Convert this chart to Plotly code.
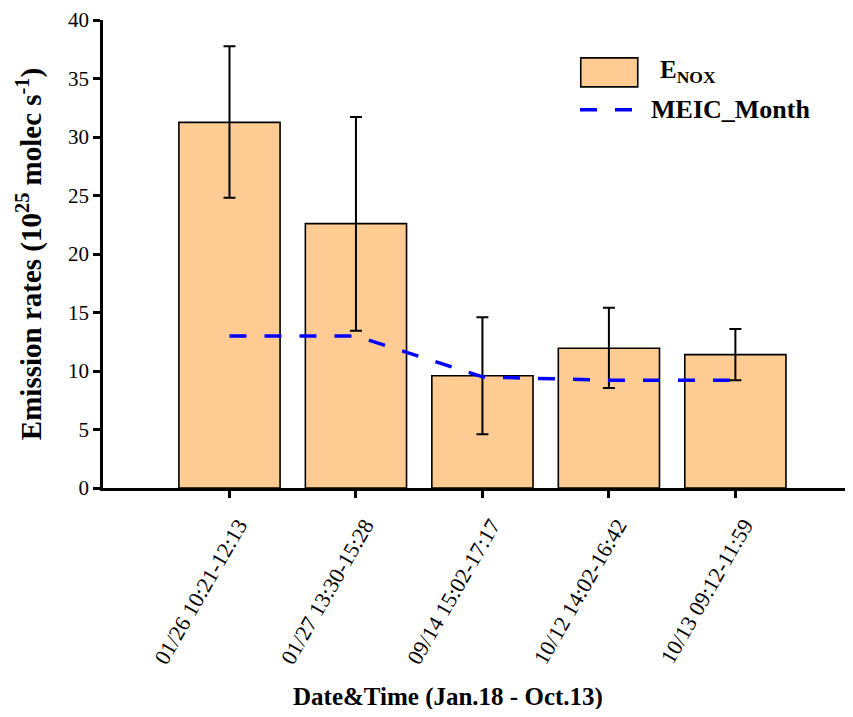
import plotly.graph_objects as go

categories = ["01/26 10:21-12:13", "01/27 13:30-15:28", "09/14 15:02-17:17",
              "10/12 14:02-16:42", "10/13 09:12-11:59"]
enox = [31.25, 22.6, 9.6, 11.95, 11.4]
err_upper = [37.75, 31.7, 14.6, 15.4, 13.6]
err_lower = [24.8, 13.45, 4.6, 8.55, 9.2]
meic_month = [13.0, 13.0, 9.5, 9.2, 9.2]
y_ticks = [0, 5, 10, 15, 20, 25, 30, 35, 40]

xpos = list(range(len(categories)))
err_plus = [u - v for u, v in zip(err_upper, enox)]
err_minus = [v - l for v, l in zip(enox, err_lower)]

FONT = "Times New Roman, Liberation Serif, DejaVu Serif, serif"
BAR_COLOR = "#FECC92"

fig = go.Figure()
fig.add_trace(go.Bar(
    x=xpos, y=enox, width=0.8, name="E_NOX",
    marker=dict(color=BAR_COLOR, line=dict(color="black", width=1.6)),
    error_y=dict(type="data", array=err_plus, arrayminus=err_minus,
                 color="black", thickness=2, width=6),
    showlegend=False,
))
fig.add_trace(go.Scatter(
    x=xpos, y=meic_month, mode="lines", name="MEIC_Month",
    line=dict(color="#0000FF", width=3.5, dash="17px,18px"),
    showlegend=False,
))

# page body has an 8px default margin; figure sized/margined to compensate
fig.update_layout(
    width=845, height=701,
    margin=dict(l=95, r=0, t=12, b=221),
    paper_bgcolor="white", plot_bgcolor="white",
    font=dict(family=FONT, color="black", size=20),
    bargap=0.2,
)
fig.update_xaxes(
    range=[-1.0, 4.93], tickmode="array", tickvals=xpos, ticktext=categories,
    tickangle=-60, tickfont=dict(size=22, family=FONT),
    ticklabelshift=9, ticklabelstandoff=6,
    showline=True, linecolor="black", linewidth=2.5,
    ticks="outside", ticklen=7, tickwidth=2.5, tickcolor="black",
    showgrid=False, zeroline=False, automargin=False,
)
fig.update_yaxes(
    range=[0, 40], tickmode="array", tickvals=y_ticks,
    tickfont=dict(size=21, family=FONT),
    showline=True, linecolor="black", linewidth=2.5,
    ticks="outside", ticklen=7, tickwidth=2.5, tickcolor="black",
    showgrid=False, zeroline=False, automargin=False,
    title=dict(text="<b>Emission rates (10<sup>25</sup> molec s<sup>-1</sup>)</b>",
               font=dict(size=29, family=FONT), standoff=18),
)

# x-axis title (offset left of the plot-area centre, as in the original)
fig.add_annotation(xref="paper", yref="paper", x=0.46, y=-0.447,
                   xanchor="center", yanchor="middle", showarrow=False,
                   text="<b>Date&Time (Jan.18 - Oct.13)</b>",
                   font=dict(size=25, family=FONT))

# custom legend (paper coordinates)
fig.add_shape(type="rect", xref="paper", yref="paper",
              x0=0.637, x1=0.713, y0=0.857, y1=0.919,
              fillcolor=BAR_COLOR, line=dict(color="black", width=1.6))
fig.add_shape(type="line", xref="paper", yref="paper",
              x0=0.636, x1=0.706, y0=0.808, y1=0.808,
              line=dict(color="#0000FF", width=3.5, dash="17px,18px"))
fig.add_annotation(xref="paper", yref="paper", x=0.740, y=0.889,
                   xanchor="left", yanchor="middle", showarrow=False,
                   text="<b>E<sub>NOX</sub></b>", font=dict(size=25, family=FONT))
fig.add_annotation(xref="paper", yref="paper", x=0.728, y=0.808,
                   xanchor="left", yanchor="middle", showarrow=False,
                   text="<b>MEIC_Month</b>", font=dict(size=26, family=FONT))

fig.write_html("out.html")
